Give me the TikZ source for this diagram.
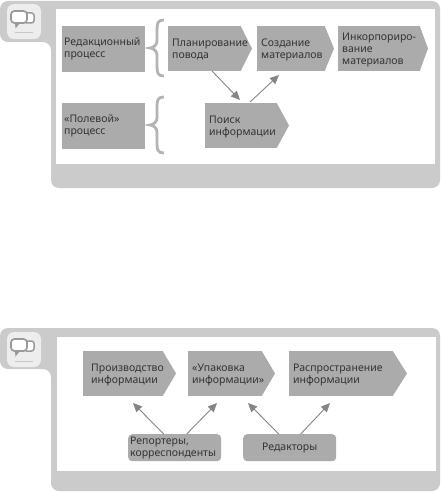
\documentclass[tikz,border=0pt]{standalone}
\usepackage{fontspec}
\setmainfont{Noto Sans}
\usetikzlibrary{arrows.meta}
\definecolor{panelgray}{HTML}{CBCBCB}
\definecolor{boxgray}{HTML}{ABABAB}
\definecolor{bracegray}{HTML}{B4B4B4}
\definecolor{arrowgray}{HTML}{858585}
\definecolor{icongray}{HTML}{9A9A9A}
\tikzset{
  x=1pt,y=-1pt,
  lbl/.style={font=\fontsize{10.5}{12.1}\selectfont,align=left,text=black!80,inner sep=0pt},
  boxnode/.style={lbl,fill=boxgray,anchor=north west,minimum height=46pt},
  roundnode/.style={lbl,fill=boxgray,rounded corners=4pt,minimum height=27pt,minimum width=93pt,anchor=north west},
  conn/.style={draw=arrowgray,line width=0.9pt,-{Triangle[length=9pt,width=8pt]}},
  bracestyle/.style={draw=bracegray,line width=2.8pt},
}
% name, x left, x body end, x tip, y top, y bottom, left padding, text
\newcommand{\chevbox}[8]{%
  \fill[boxgray] (#3-0.3,#5) -- (#4,{(#5+#6)/2}) -- (#3-0.3,#6) -- cycle;
  \node[lbl,fill=boxgray,anchor=north west,minimum width={(#3-#2)*1pt},minimum height={(#6-#5)*1pt}] (#1) at (#2,#5) {};
  \node[lbl,anchor=west,text width=120pt] (#1t) at ([xshift=#7,yshift=-1pt]#1.west) {#8};
}
\newcommand{\panelshape}[2]{% y top, y bottom
  \fill[panelgray,rounded corners=8pt] (0,#1) -- (440,#1) -- (440,#2) -- (51,#2)
    -- (51,{#1+41}) -- (0,{#1+41}) -- cycle;
}
\newcommand{\chaticon}[1]{%
  \begin{scope}[shift={(0,#1)}]
    \fill[white!93!black,rounded corners=7pt] (7,4) rectangle (41,39);
    \draw[icongray,line width=1.5pt,fill=white,rounded corners=2.5pt] (24,13) -- (34,13) -- (34,23) -- (24,23) -- cycle;
    \draw[icongray,line width=1.7pt,fill=white,rounded corners=3.5pt] (11,11) -- (27,11) -- (27,23) -- (11,23) -- cycle;
    \fill[icongray] (15,23) -- (20,23) -- (15.5,28.5) -- cycle;
    \draw[white!78!black,line width=1pt] (15,33) -- (33,33);
  \end{scope}
}
\newcommand{\bracepath}[4]{% x end, y top, y tip, y bottom
  \draw[bracestyle] (#1,#2) .. controls (158,#2) and (157,{#2+3}) .. (157,{#2+9}) -- (157,{#3-7})
    .. controls (157,{#3-3}) and (153,#3) .. (150,#3)
    .. controls (153,#3) and (157,{#3+3}) .. (157,{#3+7}) -- (157,{#4-9})
    .. controls (157,{#4-3}) and (158,#4) .. (#1,#4);
}
\begin{document}
\begin{tikzpicture}
\useasboundingbox (0,0) rectangle (441,492);
\fill[white] (0,0) rectangle (441,492);

% --- upper panel ---
\panelshape{1}{188}
\fill[white] (56,9) rectangle (435,164);
\chaticon{0}

\node[boxnode,minimum width=83pt,text width=79pt,inner xsep=2pt] (redproc) at (62,26) {Редакционный\\процесс};
\node[boxnode,minimum width=83pt,text width=79pt,inner xsep=2pt] (fieldproc) at (62,103) {«Полевой»\\процесс};
\bracepath{164}{20}{48}{76}
\bracepath{164}{97}{125}{153}

\chevbox{plan}{168}{241}{252}{26}{71}{4pt}{Планирование\\повода}
\chevbox{create}{257}{325}{334}{26}{71}{4pt}{Создание\\материалов}
\chevbox{incorp}{338}{420}{428}{26}{71}{4pt}{Инкорпориро-\\вание\\материалов}
\chevbox{search}{205}{277}{289}{103}{148}{4pt}{Поиск\\информации}

\coordinate (a1s) at (212,71);
\coordinate (a1e) at (240,100);
\coordinate (a2s) at (250,102);
\coordinate (a2e) at (279,75);
\draw[conn] (a1s) -- (a1e);
\draw[conn] (a2s) -- (a2e);

% --- lower panel ---
\panelshape{328}{491}
\fill[white] (57,337) rectangle (436,471);
\chaticon{328}

\chevbox{prod}{83}{163}{176}{351}{396}{8pt}{Производство\\информации}
\chevbox{pack}{188}{262}{275}{351}{396}{4pt}{«Упаковка\\информации»}
\chevbox{dist}{289}{393}{407}{351}{396}{4pt}{Распространение\\информации}

\node[roundnode,text width=89pt,inner xsep=2pt] (rep) at (128,434) {Репортеры,\\корреспонденты};
\node[roundnode,text width=73pt,inner xsep=10pt,align=center] (ed) at (243,434) {Редакторы};

\coordinate (t1) at (133,403);
\coordinate (t2) at (217,403);
\coordinate (t3) at (248,403);
\coordinate (t4) at (330,403);
\draw[conn] ([xshift=-11pt]rep.north) -- (t1);
\draw[conn] ([xshift=12pt]rep.north) -- (t2);
\draw[conn] ([xshift=-11pt]ed.north) -- (t3);
\draw[conn] ([xshift=11pt]ed.north) -- (t4);
\end{tikzpicture}
\end{document}
